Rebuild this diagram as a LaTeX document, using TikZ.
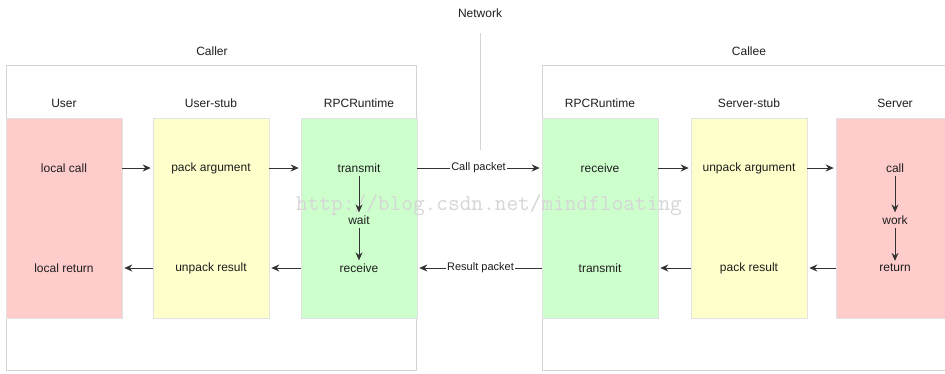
\documentclass[tikz,border=0pt]{standalone}
\usepackage{fontspec}
\setmainfont{Liberation Sans}
\usetikzlibrary{arrows.meta}
\definecolor{redfill}{HTML}{FFCCCC}
\definecolor{yellowfill}{HTML}{FFFFCC}
\definecolor{greenfill}{HTML}{CCFFCC}
\definecolor{frame}{HTML}{D4D4D4}
\definecolor{boxline}{HTML}{E2E2E2}
\definecolor{ink}{HTML}{1E1E1E}
\definecolor{arrowink}{HTML}{333333}
\tikzset{
  container/.style={draw=frame, line width=0.9pt, fill=white},
  stage/.style={draw=boxline, line width=0.6pt, minimum width=116pt, minimum height=200pt, inner sep=0pt},
  label/.style={text=ink, font=\fontsize{12}{14}\selectfont, inner sep=2pt},
  item/.style={text=ink, font=\fontsize{12}{14}\selectfont, inner sep=3pt},
  flow/.style={draw=arrowink, line width=1pt, -{Stealth[length=8pt,width=7pt]}},
  wire/.style={fill=white, text=ink, font=\fontsize{11}{13}\selectfont, inner sep=1pt},
}
\begin{document}
\begin{tikzpicture}[x=1pt,y=-1pt]
  \clip (0,0) rectangle (945,373);
  \fill[white] (0,0) rectangle (945,373);

  % caller and callee frames
  \draw[container] (6,65) rectangle (416,370);
  \draw[container] (542,65) rectangle (960,370);
  \node[label] (caller) at (212,51) {Caller};
  \node[label] (callee) at (749,51) {Callee};

  % network divider
  \node[label] (net) at (480,13) {Network};
  \coordinate (netend) at (480,150);
  \draw[frame, line width=0.9pt] (480,33) -- (netend);

  % column headings
  \node[label] (hUser)  at (64,103)  {User};
  \node[label] (hUStub) at (211,103) {User-stub};
  \node[label] (hRt1)   at (359,103) {RPCRuntime};
  \node[label] (hRt2)   at (600,103) {RPCRuntime};
  \node[label] (hSStub) at (749,103) {Server-stub};
  \node[label] (hSrv)   at (895,103) {Server};

  % stage boxes
  \node[stage, fill=redfill]    (user)  at (64,218)  {};
  \node[stage, fill=yellowfill] (ustub) at (211,218) {};
  \node[stage, fill=greenfill]  (rt1)   at (359,218) {};
  \node[stage, fill=greenfill]  (rt2)   at (600,218) {};
  \node[stage, fill=yellowfill] (sstub) at (749,218) {};
  \node[stage, fill=redfill]    (srv)   at (894,218) {};

  % watermark
  \node[text=black!16, font=\ttfamily\fontsize{22.7}{24}\selectfont, inner sep=0pt] (wm) at (489,205) {http://blog.csdn.net/mindfloating};

  % caller side steps
  \node[item] (lcall)   at (64,168)  {local call};
  \node[item] (lret)    at (64,268)  {local return};
  \node[item] (pack)    at (211,168) {pack argument};
  \node[item] (unpackr) at (211,268) {unpack result};
  \node[item] (tx1)     at (359,168) {transmit};
  \node[item] (wait)    at (359,220) {wait};
  \node[item] (rx1)     at (359,268) {receive};

  % callee side steps
  \node[item] (rx2)     at (600,168) {receive};
  \node[item] (tx2)     at (600,268) {transmit};
  \node[item] (unpacka) at (749,168) {unpack argument};
  \node[item] (packr)   at (749,268) {pack result};
  \node[item] (call)    at (895,168) {call};
  \node[item] (work)    at (895,220) {work};
  \node[item] (ret)     at (895,268) {return};

  % call path
  \draw[flow] (lcall -| user.east) -- ([xshift=-2pt]pack -| ustub.west);
  \draw[flow] (pack -| ustub.east) -- ([xshift=-2pt]tx1 -| rt1.west);
  \draw[flow] (tx1) -- (wait);
  \draw[flow] (wait) -- (rx1);
  \draw[flow] (tx1 -| rt1.east) -- node[wire] (cpk) {Call packet} ([xshift=-2pt]rx2 -| rt2.west);
  \draw[flow] (rx2 -| rt2.east) -- ([xshift=-2pt]unpacka -| sstub.west);
  \draw[flow] (unpacka -| sstub.east) -- ([xshift=-2pt]call -| srv.west);
  \draw[flow] (call) -- (work);
  \draw[flow] (work) -- (ret);

  % return path
  \draw[flow] (ret -| srv.west) -- ([xshift=2pt]packr -| sstub.east);
  \draw[flow] (packr -| sstub.west) -- ([xshift=2pt]tx2 -| rt2.east);
  \draw[flow] (tx2 -| rt2.west) -- node[wire] (rpk) {Result packet} ([xshift=2pt]rx1 -| rt1.east);
  \draw[flow] (rx1 -| rt1.west) -- ([xshift=2pt]unpackr -| ustub.east);
  \draw[flow] (unpackr -| ustub.west) -- ([xshift=2pt]lret -| user.east);
\end{tikzpicture}
\end{document}
